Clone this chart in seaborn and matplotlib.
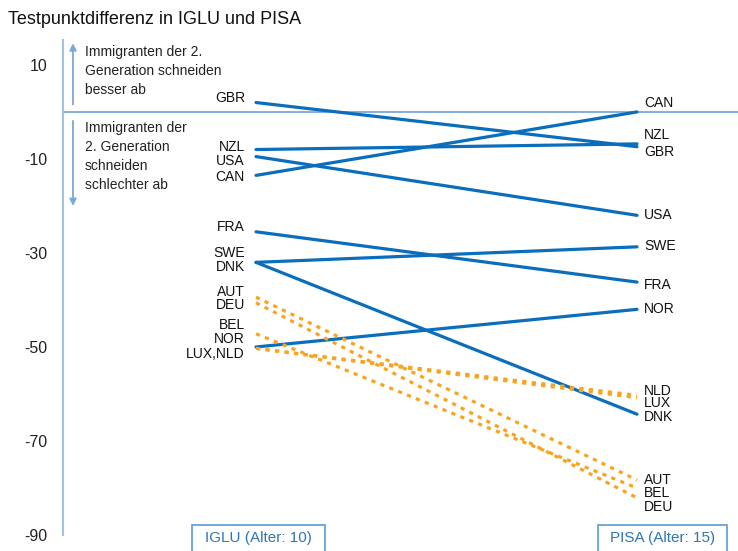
import pandas as pd
import matplotlib.pyplot as plt
import seaborn as sns
from matplotlib.patches import Rectangle

# ---------------- data (test point differences, 2nd generation immigrants) ----------------
countries = ['GBR', 'NZL', 'USA', 'CAN', 'FRA', 'SWE', 'DNK', 'NOR',
             'AUT', 'DEU', 'BEL', 'LUX', 'NLD']
iglu = [2, -8, -9.5, -13.5, -25.5, -32, -32, -50,
        -39.4, -40.6, -47.2, -50.3, -50.3]
pisa = [-7.4, -6.8, -22, 0, -36.2, -28.7, -64.3, -42,
        -78.3, -82.1, -80, -60.8, -60.3]
groups = ['solid'] * 8 + ['dashed'] * 5
tests = ['IGLU (Alter: 10)', 'PISA (Alter: 15)']

# label layout (label text, label y in chart units)
left_labels = [('GBR', 3.0), ('NZL', -7.4), ('USA', -10.4), ('CAN', -13.8),
               ('FRA', -24.5), ('SWE', -30.0), ('DNK', -33.0),
               ('AUT', -38.3), ('DEU', -41.0), ('BEL', -45.4), ('NOR', -48.4),
               ('LUX,NLD', -51.5)]
right_labels = [('CAN', 1.9), ('NZL', -4.9), ('GBR', -8.5), ('USA', -21.9),
                ('SWE', -28.5), ('FRA', -36.8), ('NOR', -41.9),
                ('NLD', -59.3), ('LUX', -62.0), ('DNK', -64.9),
                ('AUT', -78.4), ('BEL', -81.1), ('DEU', -84.0)]

# long format table for seaborn
rows = []
for c, a, b, g in zip(countries, iglu, pisa, groups):
    rows.append({'country': c, 'x': 0, 'diff': a, 'group': g})
    rows.append({'country': c, 'x': 1, 'diff': b, 'group': g})
df = pd.DataFrame(rows)

sns.set_style('white')
plt.rcParams['font.family'] = ['Liberation Sans', 'DejaVu Sans']
plt.rcParams['axes.unicode_minus'] = False

blue = '#0A6EBD'
orange = '#F7A520'
axis_blue = '#9DC3E6'

fig = plt.figure(figsize=(7.38, 5.51), dpi=100)
ax = fig.add_axes([63 / 738, 1 - 535 / 551, 1 - 63 / 738, 495 / 551])

sns.lineplot(data=df, x='x', y='diff', units='country', estimator=None,
             hue='group', style='group',
             palette={'solid': blue, 'dashed': orange},
             dashes={'solid': '', 'dashed': (1.3, 1.7)},
             linewidth=2.3, legend=False, ax=ax)

ax.set_xlim(-0.5066, 1.2651)
ax.set_ylim(-90, 15.3)
ax.axhline(0, color='#6FA3D8', linewidth=1.2, zorder=1)

# axis styling
for s in ['top', 'right', 'bottom']:
    ax.spines[s].set_visible(False)
ax.spines['left'].set_color(axis_blue)
ax.spines['left'].set_linewidth(1.5)
ax.set_xticks([])
ax.set_yticks([10, -10, -30, -50, -70, -90])
ax.tick_params(axis='y', colors=axis_blue, labelcolor='#222222',
               length=6, width=1.5, labelsize=11.5, pad=5)
ax.set_xlabel('')
ax.set_ylabel('')

# country labels
for txt, y in left_labels:
    ax.annotate(txt, (0, y), xytext=(-8, 0), textcoords='offset points',
                ha='right', va='center', fontsize=10, color='#111111')
for txt, y in right_labels:
    ax.annotate(txt, (1, y), xytext=(5, 0), textcoords='offset points',
                ha='left', va='center', fontsize=10, color='#111111')

# arrows with explanations
arrow_x = -0.4804
ax.annotate('', xy=(arrow_x, 15.2), xytext=(arrow_x, 1),
            arrowprops=dict(arrowstyle='-|>', color='#7FA7D9', lw=1.3,
                            mutation_scale=10))
ax.annotate('', xy=(arrow_x, -20.6), xytext=(arrow_x, -1.3),
            arrowprops=dict(arrowstyle='-|>', color='#7FA7D9', lw=1.3,
                            mutation_scale=10))
ax.text(-0.449, 14.2, 'Immigranten der 2.\nGeneration schneiden\nbesser ab',
        ha='left', va='top', fontsize=10, linespacing=1.45, color='#222222')
ax.text(-0.449, -1.9, 'Immigranten der\n2. Generation\nschneiden\nschlechter ab',
        ha='left', va='top', fontsize=10, linespacing=1.45, color='#222222')

# title
fig.text(8 / 738, 1 - 19 / 551, 'Testpunktdifferenz in IGLU und PISA',
         ha='left', va='center', fontsize=13, color='#111111')

# boxes for the two tests
box_px = [(192, 325), (598, 727)]
for (x0, x1), lab in zip(box_px, tests):
    fig.patches.append(Rectangle((x0 / 738, -0.05), (x1 - x0) / 738,
                                 0.05 + (551 - 525) / 551,
                                 transform=fig.transFigure, fill=False,
                                 edgecolor='#5B9BD5', linewidth=1.2))
    fig.text((x0 + x1) / 2 / 738, 1 - 538 / 551, lab, ha='center', va='center',
             fontsize=11, color='#2E75B6')

plt.savefig('out.png', dpi=100)
